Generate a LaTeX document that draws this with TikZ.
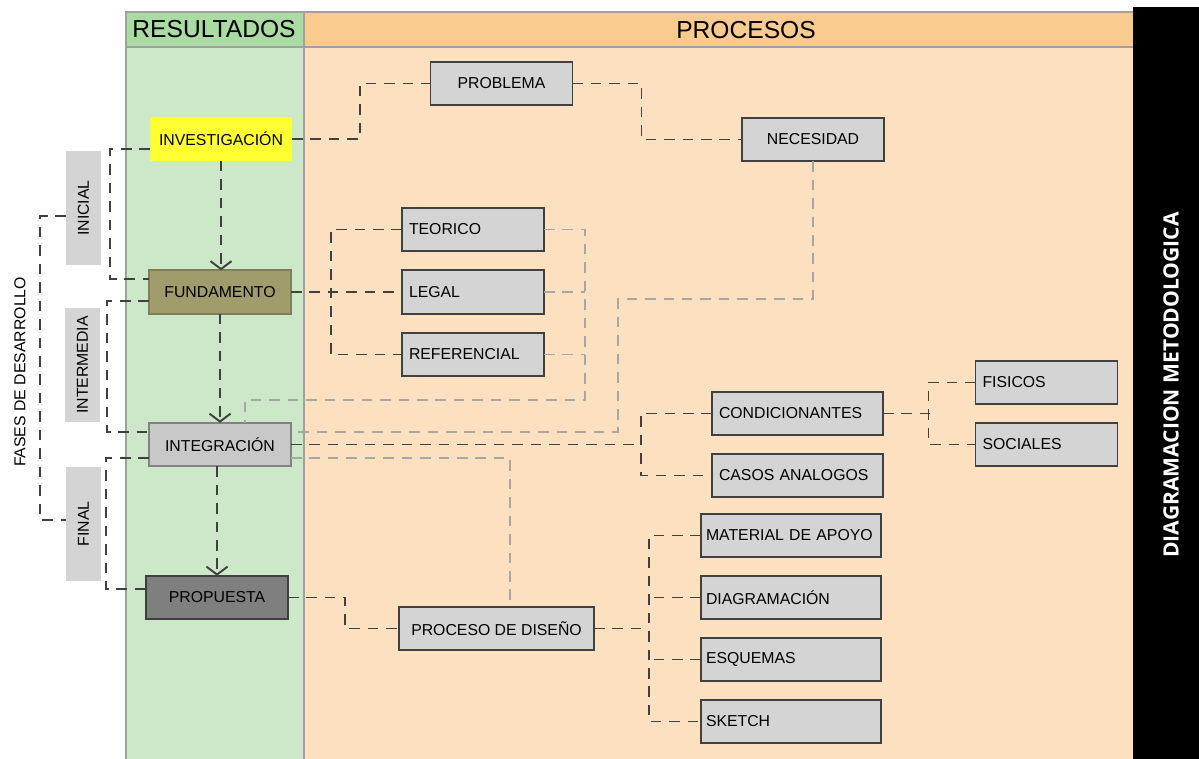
\documentclass[tikz,border=0pt]{standalone}
\usepackage{fontspec}
\setmainfont{Liberation Sans}
\newfontfamily\titulofont{Open Sans}
\usepackage{tikz}
\usetikzlibrary{arrows.meta}

\definecolor{verdecab}{RGB}{169,219,162}
\definecolor{verdecol}{RGB}{205,232,200}
\definecolor{naranjacab}{RGB}{250,203,142}
\definecolor{naranjacol}{RGB}{252,224,191}
\definecolor{cajagris}{RGB}{212,212,212}
\definecolor{linea}{RGB}{64,64,64}
\definecolor{lineagris}{RGB}{166,166,166}
\definecolor{bordecol}{RGB}{160,160,160}
\definecolor{amarillo}{RGB}{255,255,51}
\definecolor{oliva}{RGB}{160,156,108}
\definecolor{olivaosc}{RGB}{130,126,88}
\definecolor{grisclaro}{RGB}{200,200,200}
\definecolor{grismed}{RGB}{130,130,130}
\definecolor{grisosc}{RGB}{127,127,127}

\begin{document}
\begin{tikzpicture}[
x=0.02cm, y=-0.02cm,
   caja/.style = {rectangle, draw=linea, fill=cajagris, line width=1pt,% boxes of the diagram
                minimum width=2.84cm, minimum height=0.87cm,
                inner xsep=0.14cm, outer sep=0pt, font=\fontsize{9}{10}\selectfont},
    izq/.style = {text width=#1, align=left},
   fase/.style = {rectangle, fill=cajagris, rotate=90,% phase labels
                minimum width=2.28cm, minimum height=0.7cm,
                outer sep=0pt, font=\fontsize{9}{10}\selectfont},
  guion/.style = {draw=linea, line width=1.1pt, dash pattern=on 6pt off 4.5pt},
guiongris/.style = {draw=lineagris, line width=1.1pt, dash pattern=on 6pt off 4.5pt},
 flecha/.style = {guion, -{Straight Barb[length=4.5pt,width=12pt]}},
                        ]
\useasboundingbox (0,0) rectangle (1199,759);
% columns
\fill[verdecol] (126,47) rectangle (304,759);
\fill[verdecab] (126,12) rectangle (304,47);
\fill[naranjacol] (304,47) rectangle (1133,759);
\fill[naranjacab] (304,12) rectangle (1133,47);
\draw[bordecol, line width=0.7pt] (126,759) -- (126,12) -- (1133,12);
\draw[bordecol, line width=0.7pt] (304,12) -- (304,759);
\draw[bordecol, line width=0.9pt] (126,47) -- (1133,47);
\fill[black] (1133,7) rectangle (1199,759);
\node[font=\fontsize{14}{16}\selectfont] (res) at (214,29) {RESULTADOS};
\node[font=\fontsize{14}{16}\selectfont] (proc) at (746,30) {PROCESOS};
\node[rotate=90, text=white, font=\titulofont\bfseries\fontsize{12}{14}\selectfont]
    (met) at (1171,385) {DIAGRAMACION METODOLOGICA};

% phases
\node[rotate=90, font=\fontsize{9}{10}\selectfont] (fases) at (20,372) {FASES DE DESARROLLO};
\node[fase] (ini) at (83.5,208) {INICIAL};
\node[fase] (inter) at (82.5,365) {INTERMEDIA};
\node[fase] (fin) at (83.5,524) {FINAL};

% results
\node[caja, fill=amarillo, draw=none] (inv) at (221,139) {INVESTIGACIÓN};
\node[caja, fill=oliva, draw=olivaosc] (fun) at (220,292) {FUNDAMENTO};
\node[caja, fill=grisclaro, draw=grismed] (int) at (220,444.5) {INTEGRACIÓN};
\node[caja, fill=grisosc, draw=linea] (pro) at (217,597.5) {PROPUESTA};

% processes
\node[caja] (prob) at (501.5,83.5) {PROBLEMA};
\node[caja] (nec) at (813,139.5) {NECESIDAD};
\node[caja, izq=2.56cm] (teo) at (473,229.5) {TEORICO};
\node[caja, izq=2.56cm] (leg) at (473,292) {LEGAL};
\node[caja, izq=2.56cm] (ref) at (473,354.5) {REFERENCIAL};
\node[caja, izq=3.14cm] (con) at (797.5,413.5) {CONDICIONANTES};
\node[caja, izq=3.14cm] (cas) at (797.5,475.5) {CASOS ANALOGOS};
\node[caja, izq=2.56cm] (fis) at (1046.5,382.5) {FISICOS};
\node[caja, izq=2.56cm] (soc) at (1046.5,444.5) {SOCIALES};
\node[caja, izq=3.4cm, inner xsep=0.1cm] (mat) at (791,535.5) {MATERIAL DE APOYO};
\node[caja, izq=3.4cm, inner xsep=0.1cm] (dia) at (791,597.5) {DIAGRAMACIÓN};
\node[caja, izq=3.4cm, inner xsep=0.1cm] (esq) at (791,659.5) {ESQUEMAS};
\node[caja, izq=3.4cm, inner xsep=0.1cm] (ske) at (791,721.5) {SKETCH};
\node[caja, minimum width=3.9cm] (dis) at (496.5,628.5) {PROCESO DE DISEÑO};

% brackets of the phases
\draw[guion] ([yshift=-0.16cm]ini.north) -- ++(-26,0) |- ([yshift=0.08cm]fin.north);
\draw[guion] ([yshift=-0.2cm]inv.west) -- ++(-40,0) |- ([yshift=0.26cm]fun.west);
\draw[guion] ([yshift=-0.18cm]fun.west) -- ++(-42,0) |- ([yshift=0.25cm]int.west);
\draw[guion] ([yshift=-0.27cm]int.west) -- ++(-43,0) |- ([yshift=0.17cm]pro.west);

% sequence of results
\draw[flecha] (inv.south) -- (inv.south |- fun.north);
\draw[flecha] (fun.south) -- (fun.south |- int.north);
\draw[flecha] (int.south -| pro.north) -- (pro.north);

% links to the processes
\draw[guion] (inv.east) -- ++(68,0) |- (prob.west);
\draw[guion] (prob.east) -- ++(69,0) |- (nec.west);
\draw[guion] (fun.east) -- (leg.west);
\draw[guion] (teo.west) -- ++(-71,0) |- (ref.west);
\coordinate (cruce) at (245,400);
\draw[guiongris] (teo.east) -- ++(41,0) |- (cruce) -- (cruce |- int.north);
\foreach \n in {leg,ref}% <-- stubs to the grey line
    \draw[guiongris] (\n.east) -- ++(41,0);
\draw[guiongris] (nec.south) |- (618,299) |- ([yshift=0.25cm]int.east);
\draw[guion] (int.east) -- ++(350,0);
\draw[guion] (con.west) -- ++(-71,0) |- (cas.west);
\draw[guion] (con.east) -- ++(47,0);
\draw[guion] (fis.west) -- ++(-47,0) |- (soc.west);
\draw[guiongris] ([yshift=-0.27cm]int.east) -| ([xshift=0.27cm]dis.north);
\draw[guion] (pro.east) -- ++(57,0) |- (dis.west);
\draw[guion] (dis.east) -- ++(55,0);
\draw[guion] (mat.west) -- ++(-52,0) |- (ske.west);
\foreach \n in {dia,esq}% <-- stubs to the design branch
    \draw[guion] (\n.west) -- ++(-52,0);
\end{tikzpicture}
\end{document}
